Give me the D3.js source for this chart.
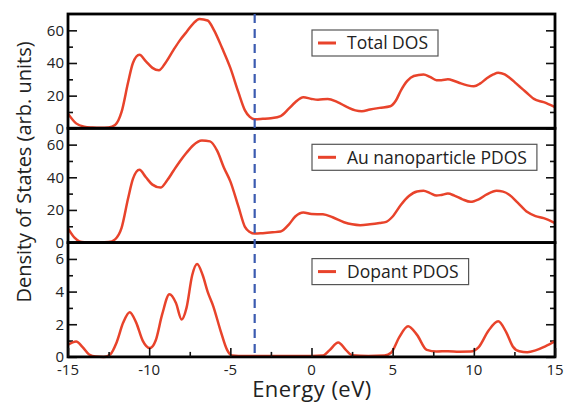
<!DOCTYPE html>
<html>
<head>
<meta charset="utf-8">
<script src="https://cdn.jsdelivr.net/npm/d3@7"></script>
<style>
  body { margin: 0; background: #fff; }
  text { font-family: "Open Sans", "Noto Sans", sans-serif; fill: #222; }
</style>
</head>
<body>
<div id="chart"></div>
<script>
// energy grid and DOS values
var totalE = [-15,-14.5,-14,-13.5,-13,-12.5,-12.1,-11.7,-11.3,-11,-10.6,-10.2,-9.8,-9.4,-9,-8.5,-8.1,-7.7,-7.3,-6.9,-6.4,-6,-5.5,-5,-4.5,-4.1,-3.8,-3.5,-3,-2.5,-1.9,-1.4,-1,-0.5,0,0.4,1,1.6,2.2,2.7,3.1,3.6,4.2,4.85,5.2,5.5,5.9,6.3,6.9,7.3,7.7,8,8.4,8.8,9.2,9.6,10,10.4,10.8,11.2,11.5,11.9,12.2,12.6,13,13.4,13.7,14.3,15];
var totalDOS = [9,3,1,0.5,0.3,0.5,2,10,28,40,45,41,37,35.5,40,48,54,59,64,67,66,60,49,37,22,11,7,5.5,5.8,6.2,7.5,12,16,19,18,17.5,18,16,13,11,10.5,11.5,12.5,13.5,17,23,29,32,33,31.5,29.5,29.5,30,29,27.5,26.3,25.7,27.5,30.6,33,34,33,31,27.5,24,20.5,18,16,13];

var auE = [-15,-14.6,-14.3,-14,-13,-12.5,-12.1,-11.7,-11.3,-11,-10.6,-10.2,-9.8,-9.3,-8.9,-8.5,-8.1,-7.7,-7.3,-6.75,-6.25,-5.8,-5.4,-5,-4.5,-4.1,-3.8,-3.5,-3,-2.4,-1.9,-1.4,-1,-0.5,0,0.7,1.3,2,2.5,3,3.6,4.2,4.6,5,5.5,6,6.5,6.9,7.3,7.7,8,8.4,8.8,9.3,9.8,10.3,10.8,11.4,11.8,12.2,12.7,13.3,13.8,14.3,15];
var auDOS = [8.7,3,0.8,0.2,0,0.3,2,9,27,39,44.6,40,35.5,33.7,38,44,49.8,55,59.5,62.5,62,56,46,37.5,22,9.6,6.5,5.5,5.8,6.3,6.8,11,16,18.5,17.5,17.3,15.5,12.5,11.2,10.7,11.2,12,12.7,16,23,28.5,31.3,31.7,30.3,28.8,29.2,30,28.8,26.5,25,26.5,29.5,31.7,31.2,29.2,24.5,18.7,16.2,15,12];

var dopE = [-15,-14.5,-14.1,-13.7,-13.3,-12.8,-12.4,-12,-11.6,-11.2,-10.8,-10.4,-9.95,-9.6,-9.2,-8.75,-8.35,-8,-7.7,-7.35,-7.05,-6.7,-6.4,-6.05,-5.6,-5.2,-4.9,-4.5,0,0.7,1.1,1.65,2.1,2.5,3.5,4.5,4.9,5.4,5.95,6.5,7.1,7.7,8.4,9.1,9.8,10.3,10.9,11.5,12,12.4,12.8,13.3,13.8,14.4,15];
var dopDOS = [0.74,0.95,0.6,0.15,0.02,0,0.15,0.9,2.1,2.74,2.1,1,0.54,1,2.6,3.83,3.3,2.29,3,5,5.69,5,4,3.1,1.6,0.43,0.08,0.05,0.05,0.08,0.4,0.88,0.45,0.1,0.05,0.08,0.25,1.2,1.88,1.35,0.43,0.33,0.35,0.32,0.33,0.6,1.6,2.18,1.5,0.64,0.35,0.29,0.4,0.65,0.95];

var legendNames = ["Total DOS", "Au nanoparticle PDOS", "Dopant PDOS"];
var yMax = [70, 70, 7];
var yMajor = [[0,20,40,60],[0,20,40,60],[0,2,4,6]];
var yMinor = [[10,30,50],[10,30,50],[1,3,5]];
var xMajor = [-15,-10,-5,0,5,10,15];
var xMinor = [-12.5,-7.5,-2.5,2.5,7.5,12.5];
var fermiE = -3.5;

var panels = [
  {e: totalE, v: totalDOS},
  {e: auE, v: auDOS},
  {e: dopE, v: dopDOS}
];

var svgWidth = 567, svgHeight = 404;
var margin = {top: 14, left: 68, right: 12};
var width = svgWidth - margin.left - margin.right;
var panelH = 114.3;

var svg = d3.select("#chart").append("svg")
  .attr("width", svgWidth)
  .attr("height", svgHeight);

var x = d3.scaleLinear().domain([-15, 15]).range([margin.left, margin.left + width]);

var lineColor = "#e8432b";

panels.forEach(function(p, i) {
  var top = margin.top + i * panelH;
  var y = d3.scaleLinear().domain([0, yMax[i]]).range([top + panelH, top]);
  var g = svg.append("g");

  // ticks on both sides, pointing inward
  g.append("g").attr("transform", `translate(${margin.left},0)`)
    .call(d3.axisRight(y).tickValues(yMajor[i]).tickSize(9).tickFormat(""));
  g.append("g").attr("transform", `translate(${margin.left},0)`)
    .call(d3.axisRight(y).tickValues(yMinor[i]).tickSize(5).tickFormat(""));
  g.append("g").attr("transform", `translate(${margin.left + width},0)`)
    .call(d3.axisLeft(y).tickValues(yMajor[i]).tickSize(9).tickFormat(""));
  g.append("g").attr("transform", `translate(${margin.left + width},0)`)
    .call(d3.axisLeft(y).tickValues(yMinor[i]).tickSize(5).tickFormat(""));
  g.selectAll(".domain").remove();
  g.selectAll(".tick line").attr("stroke", "#111").attr("stroke-width", 1.6);

  // tick labels
  g.selectAll(".ylab").data(yMajor[i]).enter().append("text")
    .attr("x", margin.left - 4)
    .attr("y", d => y(d))
    .attr("dy", "0.36em")
    .attr("text-anchor", "end")
    .style("font-size", "15px")
    .text(d => d);

  // curve
  var line = d3.line()
    .x(d => x(d[0]))
    .y(d => y(d[1]))
    .curve(d3.curveMonotoneX);
  var pts = p.e.map((e, k) => [e, p.v[k]]);
  g.append("path")
    .datum(pts)
    .attr("d", line)
    .attr("fill", "none")
    .attr("stroke", lineColor)
    .attr("stroke-width", 2.5);

  // legend
  var lg = g.append("g").attr("transform", `translate(312,${top + 16})`);
  var lt = lg.append("text")
    .attr("x", 35).attr("y", 13).attr("dy", "0.36em")
    .style("font-size", "17.5px")
    .text(legendNames[i]);
  var tw = lt.node().getComputedTextLength();
  lg.insert("rect", "text")
    .attr("x", 0).attr("y", 0)
    .attr("width", tw + 45).attr("height", 26)
    .attr("fill", "#fff")
    .attr("stroke", "#555")
    .attr("stroke-width", 1.2);
  lg.append("line")
    .attr("x1", 6).attr("x2", 24).attr("y1", 13).attr("y2", 13)
    .attr("stroke", lineColor).attr("stroke-width", 3);

  // frame
  g.append("rect")
    .attr("x", margin.left).attr("y", top)
    .attr("width", width).attr("height", panelH)
    .attr("fill", "none")
    .attr("stroke", "#000")
    .attr("stroke-width", 2.8);
});

var bottom = margin.top + 3 * panelH;

// fermi level
svg.append("line")
  .attr("x1", x(fermiE)).attr("x2", x(fermiE))
  .attr("y1", margin.top).attr("y2", bottom)
  .attr("stroke", "#3b5bb0")
  .attr("stroke-width", 2.2)
  .attr("stroke-dasharray", "9,6");

// bottom x axis, ticks inward
var xg = svg.append("g");
xg.append("g").attr("transform", `translate(0,${bottom})`)
  .call(d3.axisTop(x).tickValues(xMajor).tickSize(9).tickFormat(""));
xg.append("g").attr("transform", `translate(0,${bottom})`)
  .call(d3.axisTop(x).tickValues(xMinor).tickSize(5).tickFormat(""));
xg.selectAll(".domain").remove();
xg.selectAll(".tick line").attr("stroke", "#111").attr("stroke-width", 1.6);

xg.selectAll(".xlab").data(xMajor).enter().append("text")
  .attr("x", d => x(d))
  .attr("y", bottom + 18)
  .attr("text-anchor", "middle")
  .style("font-size", "15px")
  .text(d => d);

// axis titles
svg.append("text")
  .attr("x", 312).attr("y", 397)
  .attr("text-anchor", "middle")
  .style("font-size", "22px")
  .style("letter-spacing", "0.5px")
  .text("Energy (eV)");

svg.append("text")
  .attr("transform", "translate(31,172) rotate(-90)")
  .attr("text-anchor", "middle")
  .style("font-size", "20px")
  .text("Density of States (arb. units)");
</script>
</body>
</html>
